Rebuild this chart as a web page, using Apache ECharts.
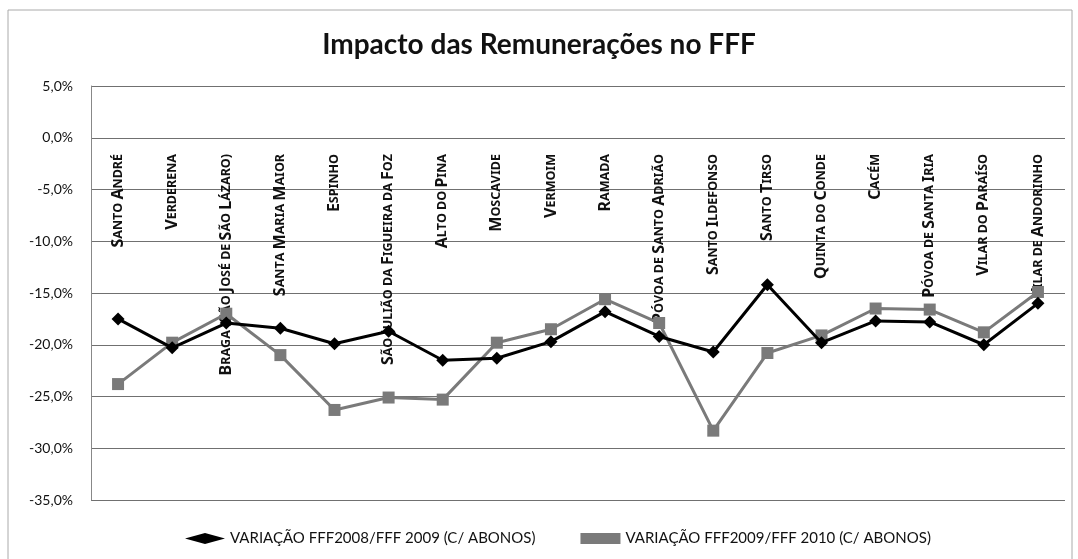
<!DOCTYPE html>
<html>
<head>
<meta charset="utf-8">
<script src="https://cdn.jsdelivr.net/npm/echarts@6/dist/echarts.min.js"></script>
<style>
  html, body { margin: 0; padding: 0; background: #fff; }
  #chart { width: 1078px; height: 559px; }
</style>
</head>
<body>
<div id="chart"></div>
<script>
// freguesias (categorias)
var categorias = ['Santo André', 'Verderena', 'Braga (São José de São Lázaro)', 'Santa Maria Maior',
  'Espinho', 'São Julião da Figueira da Foz', 'Alto do Pina', 'Moscavide', 'Vermoim', 'Ramada',
  'Póvoa de Santo Adrião', 'Santo Ildefonso', 'Santo Tirso', 'Quinta do Conde', 'Cacém',
  'Póvoa de Santa Iria', 'Vilar do Paraíso', 'Vilar de Andorinho'];

// variação FFF2008/FFF2009 (%)
var var0809 = [-17.5, -20.3, -17.9, -18.4, -19.9, -18.7, -21.5, -21.3, -19.7, -16.8,
  -19.2, -20.7, -14.2, -19.8, -17.7, -17.8, -20.0, -16.0];
// variação FFF2009/FFF2010 (%)
var var0910 = [-23.8, -19.8, -17.0, -21.0, -26.3, -25.1, -25.3, -19.8, -18.5, -15.6,
  -17.9, -28.3, -20.8, -19.1, -16.5, -16.6, -18.8, -14.9];

var nomeSerie1 = 'VARIAÇÃO FFF2008/FFF 2009 (C/ ABONOS)';
var nomeSerie2 = 'VARIAÇÃO FFF2009/FFF 2010 (C/ ABONOS)';

var fonteRotulo = '"Liberation Sans Narrow", "Noto Sans", sans-serif';

// versaletes: primeira letra maiúscula grande, resto pequeno
function versalete(txt) {
  return txt.split(' ').map(function (w) {
    var out = '';
    for (var i = 0; i < w.length; i++) {
      var ch = w.charAt(i);
      if (ch !== ch.toLowerCase()) {
        out += '{g|' + ch + '}';
      } else {
        out += '{p|' + ch.toUpperCase() + '}';
      }
    }
    return out;
  }).join('{p| }');
}

var myChart = echarts.init(document.getElementById('chart'));
var option = {
  animation: false,
  textStyle: { fontFamily: 'Lato, "Noto Sans", sans-serif' },
  graphic: [{
    type: 'rect',
    shape: { x: 8, y: 10, width: 1064, height: 560 },
    style: { fill: 'none', stroke: '#aaa', lineWidth: 1 },
    silent: true
  }],
  title: {
    text: 'Impacto das Remunerações no FFF',
    left: 'center',
    top: 26,
    textStyle: { fontSize: 28, fontWeight: 'bold', color: '#111', fontFamily: 'Lato, "Noto Sans", sans-serif' }
  },
  legend: {
    top: 526,
    left: 180,
    itemGap: 45,
    itemWidth: 40,
    itemHeight: 11,
    textStyle: { fontSize: 15, color: '#111' },
    data: [
      { name: nomeSerie1, icon: 'diamond' },
      { name: nomeSerie2, icon: 'rect' }
    ]
  },
  grid: { left: 91, right: 13, top: 86, bottom: 59, outerBoundsMode: 'none' },
  xAxis: {
    type: 'category',
    data: categorias,
    boundaryGap: true,
    position: 'bottom',
    offset: -362,
    axisLine: { show: false, onZero: false },
    axisTick: { show: false },
    axisLabel: {
      interval: 0,
      rotate: 90,
      margin: 16,
      color: '#111',
      fontWeight: 'bold',
      fontFamily: fonteRotulo,
      formatter: function (v) { return versalete(v); },
      rich: {
        g: { fontSize: 16, fontWeight: 'bold', color: '#111', fontFamily: fonteRotulo },
        p: { fontSize: 12.5, fontWeight: 'bold', color: '#111', fontFamily: fonteRotulo }
      }
    }
  },
  yAxis: {
    type: 'value',
    min: -35,
    max: 5,
    interval: 5,
    axisLine: { show: true, lineStyle: { color: '#888' } },
    axisTick: { show: false },
    splitLine: { lineStyle: { color: '#707070', width: 1 } },
    axisLabel: {
      fontSize: 14,
      color: '#111',
      margin: 18,
      formatter: function (v) { return v.toFixed(1).replace('.', ',') + '%'; }
    }
  },
  series: [
    {
      name: nomeSerie1,
      type: 'line',
      data: var0809,
      symbol: 'diamond',
      symbolSize: 13,
      lineStyle: { color: '#000', width: 3 },
      itemStyle: { color: '#000' },
      z: 3
    },
    {
      name: nomeSerie2,
      type: 'line',
      data: var0910,
      symbol: 'rect',
      symbolSize: 12,
      lineStyle: { color: '#7a7a7a', width: 3 },
      itemStyle: { color: '#7a7a7a' },
      z: 2
    }
  ]
};
myChart.setOption(option);
</script>
</body>
</html>
